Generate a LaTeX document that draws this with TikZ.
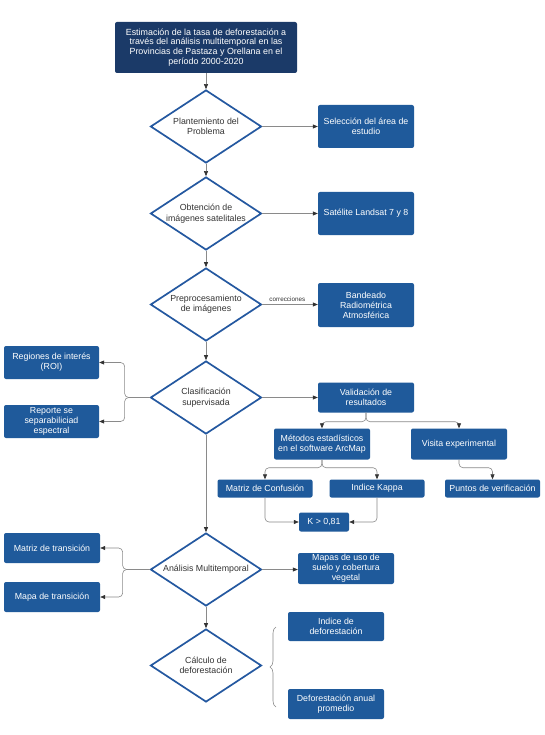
\documentclass[tikz,border=0pt]{standalone}
\usepackage{fontspec}
\setmainfont{Liberation Sans}
\usetikzlibrary{arrows.meta,shapes.geometric,decorations.pathreplacing}
\definecolor{navy}{HTML}{1B3A68}
\definecolor{boxblue}{HTML}{1F5A9B}
\definecolor{diablue}{HTML}{2458A0}
\definecolor{conngray}{HTML}{8A8A8A}
\definecolor{diatext}{HTML}{333333}
\tikzset{
  bx/.style={rectangle, fill=boxblue, rounded corners=2pt, text=white, align=center,
    inner sep=0pt, font=\fontsize{8.8}{10}\selectfont},
  titlebox/.style={bx, fill=navy, font=\fontsize{8.9}{9.8}\selectfont},
  dia/.style={diamond, draw=diablue, line width=1.7pt, fill=white, inner sep=0pt,
    minimum width=111pt, minimum height=73pt, aspect=1.52, align=center,
    text=diatext, font=\fontsize{8.8}{10.4}\selectfont},
  conn/.style={draw=conngray, line width=0.6pt, rounded corners=4pt},
  arr/.style={conn, -{Triangle[length=5pt,width=4pt,fill=black!80,color=black!80]}},
  lbl/.style={font=\fontsize{6.3}{7}\selectfont, text=diatext, inner sep=1pt}
}
\begin{document}
\begin{tikzpicture}[x=1pt,y=-1pt]
\useasboundingbox[fill=white] (0,0) rectangle (545,735);

% title
\node[titlebox, minimum width=182pt, minimum height=51pt] (title) at (206,47.5)
  {Estimación de la tasa de deforestación a\\través del análisis multitemporal en las\\Provincias de Pastaza y Orellana en el\\período 2000-2020};

% diamonds
\node[dia] (d1) at (206,126.5) {Plantemiento del\\Problema};
\node[dia] (d2) at (206,213.5) {Obtención de\\imágenes satelitales};
\node[dia] (d3) at (206,304.5) {Preprocesamiento\\de imágenes};
\node[dia] (d4) at (206,397.5) {Clasificación\\supervisada};
\node[dia] (d5) at (206,569.5) {Análisis Multitemporal};
\node[dia] (d6) at (206,665.5) {Cálculo de\\deforestación};

% boxes
\node[bx, minimum width=96pt, minimum height=43pt] (sel) at (366,126.5) {Selección del área de\\estudio};
\node[bx, minimum width=96pt, minimum height=43pt] (sat) at (366,213.5) {Satélite Landsat 7 y 8};
\node[bx, minimum width=96pt, minimum height=44pt] (band) at (366,305) {Bandeado\\Radiométrica\\Atmosférica};
\node[bx, minimum width=95pt, minimum height=33pt] (roi) at (51.5,362.5) {Regiones de interés\\(ROI)};
\node[bx, minimum width=95pt, minimum height=33pt] (rep) at (51.5,421.5) {Reporte se\\separabiliciad\\espectral};
\node[bx, minimum width=96pt, minimum height=30pt] (val) at (366,397.5) {Validación de\\resultados};
\node[bx, minimum width=96pt, minimum height=31pt] (met) at (322,444) {Métodos estadísticos\\en el software ArcMap};
\node[bx, minimum width=96pt, minimum height=31pt] (vis) at (459,444) {Visita experimental};
\node[bx, minimum width=95pt, minimum height=18pt] (mc) at (265,488.5) {Matriz de Confusión};
\node[bx, minimum width=95pt, minimum height=18pt] (kap) at (377,488.5) {Indice Kappa};
\node[bx, minimum width=95pt, minimum height=18pt] (pun) at (492.5,488.5) {Puntos de verificación};
\node[bx, minimum width=50pt, minimum height=19pt] (k) at (324,522) {K > 0,81};
\node[bx, minimum width=96pt, minimum height=30pt] (mt) at (52,548) {Matriz de transición};
\node[bx, minimum width=96pt, minimum height=30pt] (mp) at (52,597) {Mapa de transición};
\node[bx, minimum width=96pt, minimum height=31pt] (mus) at (346,568.5) {Mapas de uso de\\suelo y cobertura\\vegetal};
\node[bx, minimum width=96pt, minimum height=29pt] (ind) at (336,626.5) {Indice de\\deforestación};
\node[bx, minimum width=96pt, minimum height=30pt] (def) at (336,704) {Deforestación anual\\promedio};

% main chain
\draw[arr] (title.south) -- (d1.north);
\draw[arr] (d1.south) -- (d2.north);
\draw[arr] (d2.south) -- (d3.north);
\draw[arr] (d3.south) -- (d4.north);
\draw[arr] (d4.south) -- (d5.north);
\draw[arr] (d5.south) -- (d6.north);

% right branches
\draw[arr] (d1.east) -- (d1.east -| sel.west);
\draw[arr] (d2.east) -- (d2.east -| sat.west);
\draw[arr] (d3.east) -- node[lbl, above=2pt, pos=0.45] {correcciones} (d3.east -| band.west);
\draw[arr] (d4.east) -- (d4.east -| val.west);
\draw[arr] (d5.east) -- (d5.east -| mus.west);

% left brackets
\draw[arr] (d4.west) -- ++(-25,0) |- (roi.east);
\draw[arr] (d4.west) -- ++(-25,0) |- (rep.east);
\draw[arr] (d5.west) -- ++(-27,0) |- (mt.east);
\draw[arr] (d5.west) -- ++(-27,0) |- (mp.east);

% validation tree
\draw[arr] (val.south) -- ++(0,9) -| (met.north);
\draw[arr] (val.south) -- ++(0,9) -| (vis.north);
\draw[arr] (met.south) -- ++(0,8) -| (mc.north);
\draw[arr] (met.south) -- ++(0,8) -| (kap.north);
\draw[arr] (vis.south) -- ++(0,8) -| (pun.north);
\draw[arr] (mc.south) |- (k.west);
\draw[arr] (kap.south) |- (k.east);

% brace
\coordinate (bb) at (276,707);
\coordinate (bt) at (276,627);
\draw[draw=conngray, line width=0.6pt, decorate, decoration={brace, amplitude=6pt}] (bb) -- (bt);
\end{tikzpicture}
\end{document}
